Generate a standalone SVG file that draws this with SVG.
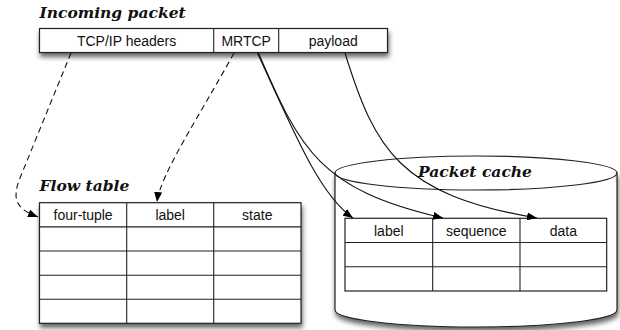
<svg xmlns="http://www.w3.org/2000/svg" width="620" height="330" viewBox="0 0 620 330">
  <defs>
    <filter id="shadow" x="-10%" y="-20%" width="120%" height="160%">
      <feDropShadow dx="1" dy="4" stdDeviation="2.8" flood-color="#000" flood-opacity="0.6"/>
    </filter>
    <marker id="arrow" viewBox="0 0 10 8" refX="10" refY="4" markerWidth="10" markerHeight="8" markerUnits="userSpaceOnUse" orient="auto">
      <path d="M0,0 L10,4 L0,8 Z" fill="#000"/>
    </marker>
    <style>
      .box { fill: #fff; stroke: #222; stroke-width: 1.2; }
      .grid { fill: none; stroke: #222; stroke-width: 1.1; }
      .cell { font-family: "Liberation Sans", Arial, sans-serif; font-size: 14px; fill: #111; text-anchor: middle; }
      .title { font-family: "DejaVu Serif", Georgia, serif; font-weight: bold; font-style: italic; font-size: 15.5px; fill: #111; }
      .link { fill: none; stroke: #111; stroke-width: 1.1; marker-end: url(#arrow); }
      .dashed { stroke-dasharray: 6 4; }
    </style>
  </defs>

  <!-- Incoming packet -->
  <g id="packet">
    <text class="title" x="39.5" y="18">Incoming packet</text>
    <rect class="box" x="39.5" y="28.5" width="348" height="24" filter="url(#shadow)"/>
    <path class="grid" d="M213.7,28.5 V52.5 M278.7,28.5 V52.5"/>
    <text class="cell" x="126.6" y="45.5">TCP/IP headers</text>
    <text class="cell" x="246.2" y="45.5">MRTCP</text>
    <text class="cell" x="333.2" y="45.5">payload</text>
  </g>

  <!-- Flow table -->
  <g id="flow-table">
    <text class="title" x="39.5" y="190.5">Flow table</text>
    <rect class="box" x="39.5" y="202.7" width="261.5" height="120.6" filter="url(#shadow)"/>
    <path class="grid" d="M126.7,202.7 V323.3 M213.7,202.7 V323.3 M39.5,226.9 H301 M39.5,251 H301 M39.5,275.2 H301 M39.5,299.3 H301"/>
    <text class="cell" x="83.1" y="220">four-tuple</text>
    <text class="cell" x="170.2" y="220">label</text>
    <text class="cell" x="257.3" y="220">state</text>
  </g>

  <!-- Packet cache -->
  <g id="packet-cache">
    <path class="box" d="M335,173 V310 A141,17 0 0 0 617,310 V173 Z" filter="url(#shadow)"/>
    <ellipse class="box" cx="476" cy="173" rx="141" ry="17"/>
    <text class="title" x="475" y="176.5" text-anchor="middle">Packet cache</text>
    <rect class="box" x="345" y="218.3" width="261.7" height="72.7"/>
    <path class="grid" d="M432.7,218.3 V291 M520,218.3 V291 M345,242.5 H606.7 M345,266.7 H606.7"/>
    <text class="cell" x="388.8" y="235.5">label</text>
    <text class="cell" x="476.3" y="235.5">sequence</text>
    <text class="cell" x="563.3" y="235.5">data</text>
  </g>

  <!-- Connectors -->
  <g id="connectors">
    <path class="link dashed" d="M71,53 L20,178 C10,203 20,210 38,217"/>
    <path class="link dashed" d="M234,53 C200,115 160,175 157,202"/>
    <path class="link" d="M257.5,53 C295,135 320,195 353,218"/>
    <path class="link" d="M258.5,53 C300,150 320,190 443,218"/>
    <path class="link" d="M345,53 C375,150 400,195 537,218"/>
  </g>
</svg>
